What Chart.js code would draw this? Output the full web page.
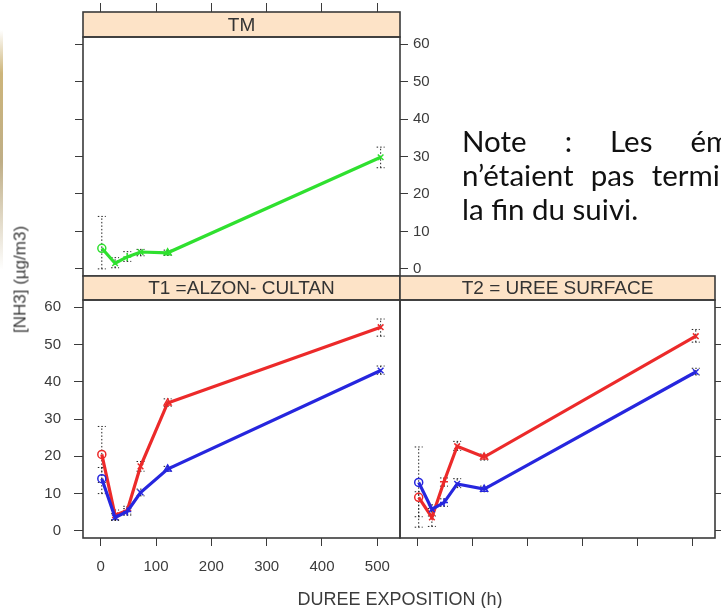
<!DOCTYPE html>
<html lang="fr">
<head>
<meta charset="utf-8">
<title>[NH3] selon la durée d'exposition</title>
<script src="https://cdn.jsdelivr.net/npm/chart.js@4.4.1/dist/chart.umd.min.js"></script>
<style>
  html, body { margin: 0; padding: 0; background: #fff; overflow: hidden; }
  #page { position: relative; width: 721px; height: 608px; overflow: hidden; background: #fff; }
  #page canvas { position: absolute; left: 0; top: 0; }
  .edge { position: absolute; left: 0; top: 30px; width: 3px; height: 240px;
          background: linear-gradient(rgba(255,255,255,0), #cdb57a 18%, #bfae86 55%, rgba(255,255,255,0)); }
  .xtitle { position: absolute; left: 250px; top: 590px; width: 300px; text-align: center;
            font: 18px/18px "Liberation Sans", Arial, sans-serif; color: #3b3b3b; white-space: nowrap; }
  .ytitle { position: absolute; left: -80px; top: 271px; width: 200px; height: 17px; text-align: center;
            font: 17px/17px "Liberation Sans", Arial, sans-serif; color: #3b3b3b; white-space: nowrap;
            transform: rotate(-90deg); }
  .note { position: absolute; left: 462px; top: 124px; font-family: Lato, "Open Sans", sans-serif;
          line-height: 34px; color: #111; white-space: nowrap; }
  .note .just { text-align: justify; text-align-last: justify; }
</style>
</head>
<body>
<div id="page">
  <div class="edge"></div>
  <canvas id="tm" width="721" height="608"></canvas>
  <canvas id="t1" width="721" height="608"></canvas>
  <canvas id="t2" width="721" height="608"></canvas>
  <div class="ytitle">[NH3] (µg/m3)</div>
  <div class="xtitle">DUREE EXPOSITION (h)</div>
  <div class="note" id="note"></div>
</div>
<script>
// Exposure times (h) and tick values
const hours = [2, 26, 48, 72, 121, 506];
const xTicks = [0, 100, 200, 300, 400, 500];
const yTicks = [0, 10, 20, 30, 40, 50, 60];

// Panel titles
const panelTitles = ['TM', 'T1 =ALZON- CULTAN', 'T2 = UREE SURFACE'];

// TM (témoin): mean [NH3] and bounds
const tmNH3  = [5.5, 1.5, 3.2, 4.5, 4.3, 29.8];
const tmLow  = [0.0, 0.3, 2.0, 3.5, 3.6, 27.0];
const tmHigh = [14.0, 3.0, 4.6, 5.2, 5.0, 32.5];

// T1: red and blue series with bounds
const t1Rouge     = [20.5, 4.2, 5.5, 17.3, 34.3, 54.6];
const t1RougeBas  = [13.0, 3.0, 4.5, 16.0, 33.4, 52.2];
const t1RougeHaut = [28.0, 5.6, 6.6, 18.6, 35.4, 56.8];
const t1Bleu      = [14.0, 3.6, 5.2, 10.3, 16.6, 43.0];
const t1BleuBas   = [10.0, 2.8, 4.2, 9.4, 16.0, 42.0];
const t1BleuHaut  = [17.0, 4.6, 6.0, 11.2, 17.3, 44.2];

// T2: red and blue series with bounds
const t2Rouge     = [9.0, 3.6, 13.2, 22.7, 19.8, 52.2];
const t2RougeBas  = [1.0, 1.2, 12.0, 21.6, 19.0, 50.6];
const t2RougeHaut = [10.5, 6.0, 14.2, 24.0, 20.6, 54.0];
const t2Bleu      = [13.0, 5.8, 7.6, 12.6, 11.2, 42.6];
const t2BleuBas   = [3.8, 4.0, 6.6, 11.6, 10.5, 41.8];
const t2BleuHaut  = [22.5, 7.0, 8.6, 14.0, 12.0, 43.6];

// Note text, one entry per line, with the justified width of each line
const noteLines = ['Note : Les émissions', 'n’étaient pas terminées à', 'la fin du suivi.'];
const noteWidths = [354, 350, null];

const FONT = '"Liberation Sans", Arial, Helvetica, sans-serif';
const INK = '#3b3b3b';
const X_RANGE = { min: -32, max: 541 };
const Y_RANGE = { min: -1.9, max: 61.9 };
const GREEN = '#2fe02f', RED = '#ec2a2a', BLUE = '#2626de';
const MARKERS = ['circle', 'crossRot', 'cross', 'crossRot', 'triangle', 'crossRot'];

function axis(o) {
  return {
    type: 'linear',
    position: o.position,
    min: o.range.min,
    max: o.range.max,
    afterBuildTicks: s => { s.ticks = o.values.map(v => ({ value: v })); },
    afterFit: s => { if (s.isHorizontal()) s.height = o.size; else s.width = o.size; },
    border: { display: false },
    grid: { drawOnChartArea: false, drawTicks: true, tickLength: o.tickLength, color: INK, lineWidth: 1 },
    ticks: { display: !!o.labels, padding: o.padding || 0, color: INK, autoSkip: false, maxRotation: 0,
             font: { family: FONT, size: 15 } }
  };
}

function series(values, low, high, color, yAxisID) {
  return {
    data: hours.map((h, i) => ({ x: h, y: values[i] })),
    low, high,
    yAxisID: yAxisID || 'y',
    borderColor: color,
    backgroundColor: color,
    borderWidth: 3.2,
    tension: 0,
    pointStyle: MARKERS,
    pointRadius: 4,
    pointBorderWidth: 1.5,
    pointBorderColor: color,
    pointBackgroundColor: 'rgba(255,255,255,0)'
  };
}

// dotted vertical bounds with small end caps
const boundsPlugin = {
  id: 'bounds',
  beforeDatasetsDraw(chart) {
    const ctx = chart.ctx;
    const xs = chart.scales.x;
    chart.data.datasets.forEach(ds => {
      if (!ds.low) return;
      const ys = chart.scales[ds.yAxisID];
      ctx.save();
      ctx.strokeStyle = '#222';
      ctx.lineWidth = 1;
      ctx.setLineDash([1.5, 2]);
      ds.data.forEach((p, i) => {
        const px = xs.getPixelForValue(p.x);
        const lo = ys.getPixelForValue(ds.low[i]);
        const hi = ys.getPixelForValue(ds.high[i]);
        ctx.beginPath(); ctx.moveTo(px, lo); ctx.lineTo(px, hi); ctx.stroke();
        [lo, hi].forEach(y => {
          ctx.beginPath(); ctx.moveTo(px - 4, y); ctx.lineTo(px + 4, y); ctx.stroke();
        });
      });
      ctx.restore();
    });
  }
};

// panel border and title strip
const framePlugin = {
  id: 'frame',
  afterDraw(chart, args, opts) {
    const { ctx, chartArea: a } = chart;
    const w = a.right - a.left, sh = opts.strip;
    ctx.save();
    ctx.fillStyle = '#fde3c7';
    ctx.fillRect(a.left, a.top - sh, w, sh);
    ctx.strokeStyle = '#3a3a3a';
    ctx.lineWidth = 1.6;
    ctx.strokeRect(a.left, a.top - sh, w, sh);
    ctx.strokeRect(a.left, a.top, w, a.bottom - a.top);
    ctx.fillStyle = '#333';
    ctx.font = '19px ' + FONT;
    ctx.textAlign = 'center';
    ctx.textBaseline = 'middle';
    ctx.fillText(opts.title, a.left + w / 2, a.top - sh / 2 + 1);
    ctx.restore();
  }
};

function panel(id, datasets, scales, padding, title, strip) {
  return new Chart(document.getElementById(id), {
    type: 'line',
    data: { datasets },
    plugins: [boundsPlugin, framePlugin],
    options: {
      responsive: false,
      animation: false,
      devicePixelRatio: 1,
      events: [],
      layout: { padding },
      scales,
      plugins: {
        legend: { display: false },
        tooltip: { enabled: false },
        frame: { title, strip }
      }
    }
  });
}

// TM: top row, x ticks on top, y labels on the right
panel('tm',
  [series(tmNH3, tmLow, tmHigh, GREEN, 'y')],
  {
    x:  axis({ position: 'top',   range: X_RANGE, values: xTicks, size: 34, tickLength: 34 }),
    y:  axis({ position: 'left',  range: Y_RANGE, values: yTicks, size: 8,  tickLength: 8 }),
    y2: axis({ position: 'right', range: Y_RANGE, values: yTicks, size: 40, tickLength: 8, labels: true, padding: 5 })
  },
  { left: 75, top: 3, right: 281, bottom: 332 }, panelTitles[0], 25);

// T1: bottom left, labelled axes
panel('t1',
  [series(t1Bleu, t1BleuBas, t1BleuHaut, BLUE), series(t1Rouge, t1RougeBas, t1RougeHaut, RED)],
  {
    x: axis({ position: 'bottom', range: X_RANGE, values: xTicks, size: 70, tickLength: 8, labels: true, padding: 12 }),
    y: axis({ position: 'left',   range: Y_RANGE, values: yTicks, size: 83, tickLength: 9, labels: true, padding: 13 })
  },
  { left: 0, top: 300, right: 321, bottom: 0 }, panelTitles[1], 24);

// T2: bottom right, tick marks only
panel('t2',
  [series(t2Bleu, t2BleuBas, t2BleuHaut, BLUE), series(t2Rouge, t2RougeBas, t2RougeHaut, RED)],
  {
    x: axis({ position: 'bottom', range: X_RANGE, values: xTicks, size: 70, tickLength: 8 }),
    y: axis({ position: 'right',  range: Y_RANGE, values: yTicks, size: 6,  tickLength: 8 })
  },
  { left: 400, top: 300, right: 0, bottom: 0 }, panelTitles[2], 24);

// Note paragraph: font sized so the last line spans about 176px
(function () {
  const note = document.getElementById('note');
  const m = document.createElement('canvas').getContext('2d');
  m.font = '100px Lato';
  const size = 176 / m.measureText(noteLines[2]).width * 100;
  note.style.fontSize = size.toFixed(1) + 'px';
  noteLines.forEach((t, i) => {
    const d = document.createElement('div');
    d.textContent = t;
    if (noteWidths[i]) { d.className = 'just'; d.style.width = noteWidths[i] + 'px'; }
    note.appendChild(d);
  });
})();
</script>
</body>
</html>
